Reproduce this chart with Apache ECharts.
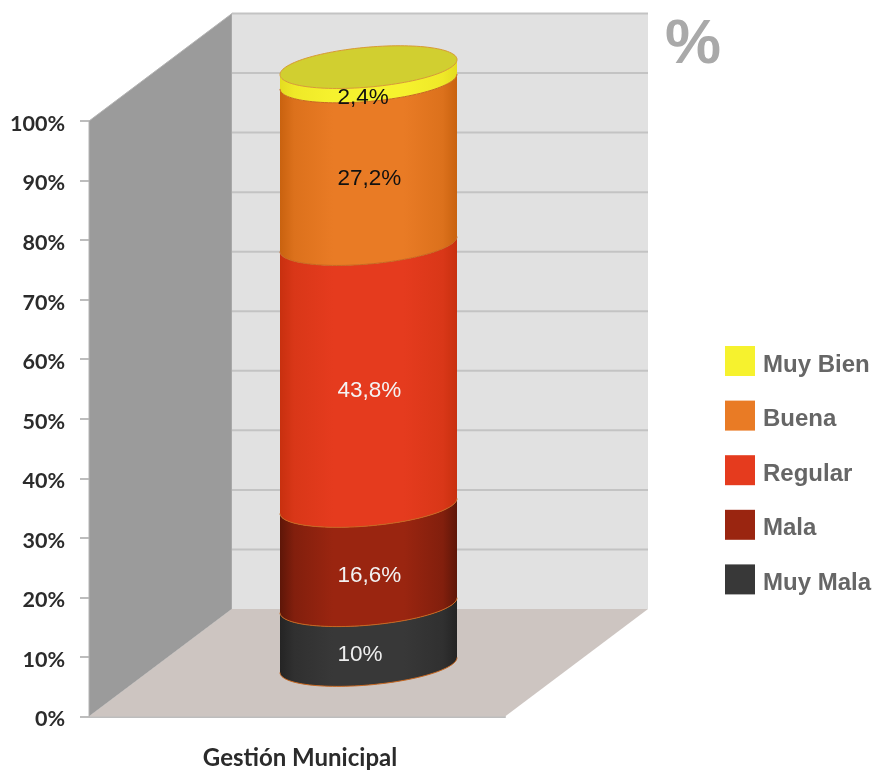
<!DOCTYPE html>
<html>
<head>
<meta charset="utf-8">
<style>
  html, body { margin: 0; padding: 0; background: #fff; }
  #chart { width: 877px; height: 771px; }
</style>
<script src="https://cdn.jsdelivr.net/npm/echarts@6/dist/echarts.min.js"></script>
</head>
<body>
<div id="chart"></div>
<script>
const categories = ['Gestión Municipal'];
// de abajo hacia arriba
const seriesNames = ['Muy Mala', 'Mala', 'Regular', 'Buena', 'Muy Bien'];
const seriesValues = [10, 16.6, 43.8, 27.2, 2.4];
const seriesColors = ['#383838', '#9a2510', '#e53b1e', '#e97b25', '#f6f22e'];
const seriesEdges = ['#242424', '#5e1608', '#c8300f', '#c9620f', '#e4dc20'];
const labelColors = ['#eeeeee', '#f2f2f2', '#f4f4f4', '#111111', '#111111'];
const legendOrder = ['Muy Bien', 'Buena', 'Regular', 'Mala', 'Muy Mala'];
const gridTicks = [0, 10, 20, 30, 40, 50, 60, 70, 80, 90, 100];

// profundidad de la caja 3D y del cilindro (px)
const DEPTH_X = 143, DEPTH_Y = -107.5;
const CYL_X = 71.5, CYL_Y = -51.5;
const CYL_R = 88.5, CYL_B = 20, CYL_K = -7.5;
const CYL_SCALE = 1.004;
// ajuste vertical de cada etiqueta sobre el cilindro
const labelShift = [20, 20, 16, 16, 24];

const chart = echarts.init(document.getElementById('chart'));

function ellipsePoint(cx, cy, t) {
  return [cx + CYL_R * Math.cos(t), cy + CYL_B * Math.sin(t) + CYL_K * Math.cos(t)];
}

// arco frontal, de derecha a izquierda
function frontArc(cx, cy) {
  const pts = [];
  for (let i = 0; i <= 60; i++) pts.push(ellipsePoint(cx, cy, Math.PI * i / 60));
  return pts;
}

function wholeEllipse(cx, cy) {
  const pts = [];
  for (let i = 0; i < 120; i++) pts.push(ellipsePoint(cx, cy, Math.PI * 2 * i / 120));
  return pts;
}

function renderWalls(params, api) {
  const p00 = api.coord([0, 0]);
  const p100 = api.coord([0, 100]);
  const w = api.size([1, 0])[0];
  const x0 = p00[0] - w / 2, x1 = p00[0] + w / 2;
  const y0 = p00[1], y1 = p100[1];
  const children = [
    { type: 'polygon', shape: { points: [[x0, y1], [x0 + DEPTH_X, y1 + DEPTH_Y], [x0 + DEPTH_X, y0 + DEPTH_Y], [x0, y0]] },
      style: { fill: '#9b9b9b', stroke: '#b4b4b4', lineWidth: 1 } },
    { type: 'rect', shape: { x: x0 + DEPTH_X, y: y1 + DEPTH_Y, width: x1 - x0, height: y0 - y1 },
      style: { fill: '#e1e1e1' } },
    { type: 'polygon', shape: { points: [[x0, y0], [x0 + DEPTH_X, y0 + DEPTH_Y], [x1 + DEPTH_X, y0 + DEPTH_Y], [x1, y0]] },
      style: { fill: '#cdc5c1' } }
  ];
  gridTicks.forEach(v => {
    if (v === 0) return;
    const y = api.coord([0, v])[1] + DEPTH_Y;
    children.push({ type: 'line', shape: { x1: x0 + DEPTH_X, y1: y, x2: x1 + DEPTH_X, y2: y },
      style: { stroke: '#c3c3c3', lineWidth: 2 } });
  });
  return { type: 'group', children };
}

function renderSegment(params, api) {
  const i = params.seriesIndex - 1;
  const zero = api.coord([api.value(0), 0]);
  const base = api.coord([api.value(0), api.value(1)]);
  const top = api.coord([api.value(0), api.value(2)]);
  const cx = base[0] + CYL_X;
  const yb = zero[1] + CYL_Y + (base[1] - zero[1]) * CYL_SCALE;
  const yt = zero[1] + CYL_Y + (top[1] - zero[1]) * CYL_SCALE;
  const lower = frontArc(cx, yb);
  const upper = frontArc(cx, yt).reverse();
  const mid = echarts.color.lerp(0.6, [seriesEdges[i], seriesColors[i]]);
  const fill = {
    type: 'linear', x: 0, y: 0, x2: 1, y2: 0,
    colorStops: [
      { offset: 0, color: seriesEdges[i] },
      { offset: 0.08, color: mid },
      { offset: 0.3, color: seriesColors[i] },
      { offset: 0.7, color: seriesColors[i] },
      { offset: 0.92, color: mid },
      { offset: 1, color: seriesEdges[i] }
    ]
  };
  const children = [
    { type: 'polygon', shape: { points: lower.concat(upper) }, style: { fill } },
    { type: 'polyline', shape: { points: lower }, style: { stroke: '#c8671f', lineWidth: 1, fill: 'none' } }
  ];
  if (i === seriesNames.length - 1) {
    children.push({ type: 'polygon', shape: { points: wholeEllipse(cx, yt) },
      style: { fill: '#d1cf30', stroke: '#d89a34', lineWidth: 1 } });
  }
  children.push({
    type: 'text',
    style: {
      text: String(seriesValues[i]).replace('.', ',') + '%',
      x: cx - 31,
      y: (yb + yt) / 2 + labelShift[i],
      fill: labelColors[i],
      font: '22.5px "Liberation Sans"',
      align: 'left',
      verticalAlign: 'middle'
    }
  });
  return { type: 'group', children };
}

let running = 0;
const segmentSeries = seriesNames.map((name, i) => {
  const start = running;
  running += seriesValues[i];
  return {
    name,
    type: 'custom',
    renderItem: renderSegment,
    itemStyle: { color: seriesColors[i] },
    encode: { x: 0, y: [1, 2] },
    data: [[0, start, running]],
    silent: true
  };
});

chart.setOption({
  animation: false,
  backgroundColor: '#fff',
  title: {
    text: '%',
    left: 665,
    top: 14,
    padding: 0,
    textStyle: { fontFamily: 'Liberation Sans', fontWeight: 'bold', fontSize: 63, color: '#a9a9a9' }
  },
  legend: {
    orient: 'vertical',
    left: 725,
    top: 346,
    padding: 0,
    itemWidth: 30,
    itemHeight: 30,
    itemGap: 23.6,
    icon: 'rect',
    selectedMode: false,
    data: legendOrder,
    formatter: '{t|{name}}',
    textStyle: {
      rich: {
        t: { fontFamily: 'Liberation Sans', fontWeight: 'bold', fontSize: 24, color: '#666', padding: [8, 0, 0, 3] }
      }
    }
  },
  grid: { left: 89, top: 121, width: 416, height: 595.5, outerBoundsMode: 'none' },
  xAxis: {
    type: 'category',
    data: categories,
    axisLine: { lineStyle: { color: '#bdbdbd', width: 2 } },
    axisTick: { length: 7, lineStyle: { color: '#bdbdbd' } },
    axisLabel: {
      margin: 30,
      padding: [0, 0, 0, 6],
      fontFamily: 'Lato', fontWeight: 'bold', fontSize: 24, color: '#2b2b2b'
    }
  },
  yAxis: {
    type: 'value',
    min: 0,
    max: 100,
    interval: 10,
    splitLine: { show: false },
    axisLine: { show: true, lineStyle: { color: '#bdbdbd' } },
    axisTick: { show: true, length: 9, lineStyle: { color: '#bdbdbd', width: 2 } },
    axisLabel: {
      formatter: '{value}%',
      margin: 24,
      verticalAlign: 'top',
      lineHeight: 6,
      fontFamily: 'Lato', fontWeight: 'bold', fontSize: 21.5, color: '#2b2b2b'
    }
  },
  series: [
    { type: 'custom', name: 'caja', renderItem: renderWalls, encode: { x: 0, y: 1 }, data: [[0, 0]], silent: true }
  ].concat(segmentSeries)
});
</script>
</body>
</html>
